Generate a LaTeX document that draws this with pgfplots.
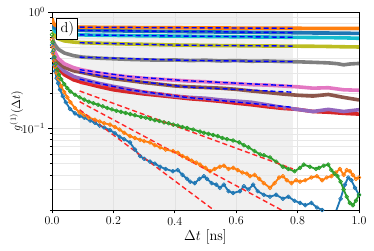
\documentclass[border=0pt]{standalone}
\usepackage{pgfplots}
\pgfplotsset{compat=1.18}
\definecolor{tabblue}{HTML}{1F77B4}
\definecolor{taborange}{HTML}{FF7F0E}
\definecolor{tabgreen}{HTML}{2CA02C}
\definecolor{tabred}{HTML}{D62728}
\definecolor{tabpurple}{HTML}{9467BD}
\definecolor{tabbrown}{HTML}{8C564B}
\definecolor{tabpink}{HTML}{E377C2}
\definecolor{tabgray}{HTML}{7F7F7F}
\definecolor{tabolive}{HTML}{BCBD22}
\definecolor{tabcyan}{HTML}{17BECF}
\definecolor{bandgray}{RGB}{240,240,240}
\pgfplotsset{
  low/.style={color=#1, line width=1.8bp, line join=round, mark=o, mark size=1.9bp, mark options={line width=0.8bp, solid}},
  top/.style={color=#1, line width=3.6bp, line join=round},
  bfit/.style={color=blue, line width=1.4bp, dash pattern=on 5bp off 3bp},
  rfit/.style={color=red!85!white, line width=1.4bp, dash pattern=on 5bp off 3bp},
}
\begin{document}
\begin{tikzpicture}
\begin{axis}[
  set layers,
  scale only axis, width=307bp, height=198bp,
  xmin=0, xmax=1, ymin=0.02, ymax=1, ymode=log,
  xtick={0,0.2,0.4,0.6,0.8,1},
  xticklabels={0.0,0.2,0.4,0.6,0.8,1.0},
  ytick={0.1,1}, yticklabels={$10^{-1}$,$10^{0}$},
  minor ytick={0.02,0.03,0.04,0.05,0.06,0.07,0.08,0.09,0.2,0.3,0.4,0.5,0.6,0.7,0.8,0.9},
  xtick pos=bottom, ytick pos=left,
  tick align=outside,
  major tick length=3.5bp, minor tick length=2bp,
  xmajorgrids, ymajorgrids, yminorgrids,
  major grid style={draw=black!11, line width=0.5bp},
  minor grid style={draw=black!9, line width=0.5bp},
  axis line style={line width=1bp, black},
  every tick/.style={black, line width=0.8bp},
  xlabel={$\Delta t$ [ns]}, ylabel={$g^{(1)}(\Delta t)$},
  xlabel style={font=\Large, yshift=2bp},
  ylabel style={font=\large},
  ylabel shift=-8bp,
  tick label style={font=\large},
]
\begin{pgfonlayer}{axis background}
\fill[bandgray] (axis cs:0.09,0.02) rectangle (axis cs:0.785,1);
\end{pgfonlayer}

% lower blue
\addplot[low=tabblue] coordinates {
(0,0.52)(0.002,0.45)(0.004,0.40)(0.007,0.35)(0.01,0.31)(0.015,0.27)(0.02,0.245)(0.026,0.216)(0.035,0.19)(0.045,0.168)(0.059,0.147)(0.075,0.135)(0.09,0.128)(0.105,0.124)(0.124,0.117)(0.14,0.112)(0.155,0.106)(0.17,0.102)(0.189,0.097)(0.205,0.091)(0.22,0.085)(0.235,0.081)(0.254,0.076)(0.27,0.066)(0.287,0.058)(0.30,0.055)(0.319,0.052)(0.335,0.050)(0.352,0.047)(0.37,0.045)(0.394,0.043)(0.41,0.044)(0.425,0.040)(0.44,0.037)(0.45,0.035)(0.465,0.034)(0.48,0.037)(0.495,0.039)(0.505,0.037)(0.52,0.034)(0.535,0.033)(0.547,0.031)(0.56,0.033)(0.575,0.029)(0.59,0.028)(0.612,0.029)(0.625,0.032)(0.64,0.030)(0.655,0.033)(0.67,0.029)(0.69,0.027)(0.71,0.026)(0.73,0.027)(0.752,0.025)(0.77,0.026)(0.79,0.024)(0.808,0.023)(0.825,0.022)(0.845,0.023)(0.863,0.021)(0.88,0.020)(0.895,0.019)(0.91,0.018)(0.925,0.0195)(0.94,0.025)(0.954,0.033)(0.965,0.038)(0.975,0.036)(0.987,0.031)(1.0,0.027)};
% lower orange
\addplot[low=taborange] coordinates {
(0,0.58)(0.002,0.50)(0.004,0.44)(0.007,0.38)(0.01,0.34)(0.015,0.30)(0.02,0.27)(0.03,0.23)(0.04,0.205)(0.05,0.185)(0.06,0.168)(0.075,0.150)(0.09,0.137)(0.105,0.130)(0.12,0.124)(0.14,0.119)(0.155,0.115)(0.17,0.111)(0.189,0.108)(0.205,0.103)(0.22,0.098)(0.235,0.092)(0.254,0.086)(0.27,0.083)(0.287,0.080)(0.30,0.078)(0.319,0.076)(0.335,0.072)(0.352,0.069)(0.37,0.066)(0.394,0.064)(0.41,0.062)(0.425,0.058)(0.44,0.056)(0.455,0.053)(0.47,0.051)(0.482,0.049)(0.5,0.046)(0.515,0.043)(0.53,0.045)(0.547,0.047)(0.56,0.048)(0.575,0.045)(0.59,0.046)(0.605,0.044)(0.62,0.042)(0.635,0.041)(0.645,0.039)(0.66,0.040)(0.675,0.037)(0.69,0.034)(0.71,0.031)(0.725,0.034)(0.74,0.038)(0.752,0.039)(0.765,0.036)(0.78,0.034)(0.795,0.036)(0.808,0.035)(0.825,0.036)(0.845,0.038)(0.863,0.039)(0.88,0.036)(0.895,0.038)(0.91,0.039)(0.925,0.042)(0.938,0.045)(0.95,0.040)(0.96,0.044)(0.97,0.043)(0.98,0.040)(0.99,0.037)(1.0,0.038)};
% lower green
\addplot[low=tabgreen] coordinates {
(0,0.64)(0.002,0.55)(0.005,0.47)(0.008,0.41)(0.012,0.36)(0.017,0.32)(0.023,0.29)(0.03,0.265)(0.04,0.24)(0.05,0.222)(0.06,0.208)(0.075,0.195)(0.09,0.185)(0.105,0.177)(0.12,0.170)(0.135,0.165)(0.15,0.160)(0.165,0.155)(0.18,0.150)(0.195,0.146)(0.21,0.142)(0.225,0.139)(0.24,0.136)(0.255,0.133)(0.27,0.130)(0.29,0.126)(0.305,0.124)(0.32,0.121)(0.335,0.118)(0.35,0.116)(0.365,0.113)(0.38,0.111)(0.395,0.108)(0.41,0.106)(0.425,0.103)(0.44,0.101)(0.46,0.098)(0.482,0.094)(0.495,0.092)(0.51,0.090)(0.525,0.088)(0.54,0.086)(0.555,0.083)(0.57,0.081)(0.59,0.079)(0.61,0.076)(0.625,0.072)(0.64,0.069)(0.66,0.064)(0.678,0.060)(0.69,0.059)(0.71,0.0565)(0.73,0.052)(0.752,0.047)(0.77,0.045)(0.79,0.043)(0.808,0.046)(0.82,0.049)(0.84,0.047)(0.86,0.045)(0.87,0.046)(0.885,0.048)(0.9,0.049)(0.91,0.044)(0.92,0.041)(0.93,0.039)(0.94,0.035)(0.95,0.030)(0.96,0.026)(0.97,0.023)(0.98,0.022)(0.99,0.024)(1.0,0.027)};
% red
\addplot[top=tabred] coordinates {
(0,0.52)(0.004,0.43)(0.01,0.38)(0.02,0.33)(0.04,0.29)(0.07,0.262)(0.1,0.248)(0.15,0.23)(0.2,0.215)(0.25,0.206)(0.3,0.198)(0.35,0.192)(0.4,0.186)(0.45,0.18)(0.5,0.176)(0.55,0.171)(0.6,0.165)(0.65,0.16)(0.7,0.154)(0.75,0.149)(0.8,0.146)(0.85,0.14)(0.9,0.138)(0.95,0.135)(1.0,0.133)};
% purple
\addplot[top=tabpurple] coordinates {
(0,0.55)(0.004,0.45)(0.01,0.40)(0.02,0.35)(0.04,0.31)(0.07,0.28)(0.1,0.265)(0.15,0.245)(0.2,0.23)(0.25,0.218)(0.3,0.205)(0.35,0.198)(0.4,0.19)(0.45,0.185)(0.5,0.182)(0.55,0.176)(0.6,0.172)(0.65,0.168)(0.7,0.16)(0.75,0.152)(0.8,0.146)(0.85,0.14)(0.9,0.146)(0.95,0.14)(1.0,0.145)};
% brown
\addplot[top=tabbrown] coordinates {
(0,0.56)(0.004,0.47)(0.01,0.42)(0.02,0.37)(0.04,0.335)(0.07,0.313)(0.1,0.302)(0.15,0.283)(0.2,0.268)(0.25,0.258)(0.3,0.248)(0.35,0.24)(0.4,0.232)(0.45,0.228)(0.5,0.225)(0.55,0.222)(0.6,0.217)(0.65,0.21)(0.7,0.204)(0.75,0.198)(0.8,0.193)(0.85,0.19)(0.9,0.196)(0.95,0.185)(1.0,0.176)};
% pink
\addplot[top=tabpink] coordinates {
(0,0.58)(0.004,0.50)(0.01,0.45)(0.02,0.40)(0.04,0.36)(0.07,0.333)(0.1,0.318)(0.15,0.30)(0.2,0.287)(0.25,0.278)(0.3,0.27)(0.35,0.265)(0.4,0.26)(0.45,0.255)(0.5,0.252)(0.55,0.246)(0.6,0.243)(0.65,0.238)(0.7,0.236)(0.75,0.232)(0.8,0.228)(0.85,0.222)(0.9,0.224)(0.95,0.215)(1.0,0.213)};
% gray
\addplot[top=tabgray] coordinates {
(0,0.62)(0.004,0.56)(0.01,0.52)(0.02,0.48)(0.04,0.445)(0.07,0.422)(0.1,0.41)(0.15,0.402)(0.2,0.397)(0.25,0.392)(0.3,0.389)(0.35,0.386)(0.4,0.388)(0.45,0.383)(0.5,0.386)(0.55,0.38)(0.6,0.383)(0.65,0.378)(0.7,0.38)(0.75,0.376)(0.8,0.374)(0.85,0.37)(0.9,0.366)(0.93,0.36)(0.95,0.352)(0.97,0.358)(1.0,0.362)};
% olive
\addplot[top=tabolive] coordinates {
(0,0.72)(0.004,0.66)(0.01,0.62)(0.02,0.59)(0.04,0.565)(0.07,0.552)(0.1,0.545)(0.15,0.54)(0.2,0.535)(0.25,0.531)(0.3,0.528)(0.35,0.524)(0.4,0.521)(0.45,0.519)(0.5,0.517)(0.55,0.515)(0.6,0.514)(0.65,0.512)(0.7,0.511)(0.75,0.51)(0.8,0.509)(0.85,0.508)(0.9,0.506)(0.95,0.503)(1.0,0.501)};
% cyan
\addplot[top=tabcyan] coordinates {
(0,0.80)(0.004,0.72)(0.01,0.68)(0.02,0.66)(0.04,0.648)(0.07,0.64)(0.1,0.636)(0.15,0.632)(0.2,0.63)(0.25,0.627)(0.3,0.625)(0.35,0.623)(0.4,0.621)(0.45,0.619)(0.5,0.617)(0.55,0.615)(0.6,0.613)(0.65,0.611)(0.7,0.61)(0.75,0.608)(0.8,0.606)(0.85,0.604)(0.9,0.603)(0.95,0.60)(1.0,0.595)};
% blue top
\addplot[top=tabblue] coordinates {
(0,0.80)(0.004,0.75)(0.01,0.725)(0.02,0.712)(0.04,0.703)(0.07,0.698)(0.1,0.695)(0.15,0.692)(0.2,0.689)(0.25,0.687)(0.3,0.684)(0.35,0.682)(0.4,0.680)(0.45,0.677)(0.5,0.676)(0.55,0.673)(0.6,0.672)(0.65,0.669)(0.7,0.668)(0.75,0.665)(0.8,0.664)(0.85,0.661)(0.9,0.660)(0.95,0.657)(1.0,0.656)};
% orange top
\addplot[top=taborange] coordinates {
(0,0.88)(0.003,0.82)(0.008,0.78)(0.015,0.76)(0.03,0.75)(0.06,0.744)(0.1,0.741)(0.15,0.739)(0.2,0.738)(0.25,0.736)(0.3,0.735)(0.35,0.734)(0.4,0.733)(0.45,0.731)(0.5,0.73)(0.55,0.729)(0.6,0.728)(0.65,0.727)(0.7,0.726)(0.75,0.725)(0.8,0.725)(0.85,0.724)(0.9,0.724)(0.95,0.723)(1.0,0.723)};

% fits
\addplot[rfit] coordinates {(0.09,0.145)(0.785,0.0062)};
\addplot[rfit] coordinates {(0.09,0.17)(0.785,0.0177)};
\addplot[rfit] coordinates {(0.09,0.21)(0.785,0.045)};
\addplot[rfit] coordinates {(0.09,0.245)(0.785,0.145)};
\addplot[bfit] coordinates {(0.09,0.265)(0.25,0.215)(0.43,0.186)(0.785,0.152)};
\addplot[bfit] coordinates {(0.09,0.305)(0.25,0.26)(0.43,0.228)(0.785,0.205)};
\addplot[bfit] coordinates {(0.09,0.32)(0.25,0.28)(0.43,0.258)(0.785,0.232)};
\addplot[bfit] coordinates {(0.09,0.41)(0.43,0.385)(0.785,0.375)};
\addplot[bfit] coordinates {(0.09,0.545)(0.4,0.52)(0.785,0.51)};
\addplot[bfit] coordinates {(0.09,0.636)(0.785,0.607)};
\addplot[bfit] coordinates {(0.09,0.696)(0.785,0.665)};
\addplot[bfit] coordinates {(0.09,0.741)(0.785,0.725)};

\node[draw=black, fill=white, line width=0.8bp, minimum size=21bp, inner sep=0pt, font=\Large] at (axis description cs:0.05,0.917) {d)};
\end{axis}
\pgfresetboundingbox
\path ([shift={(-52bp,-41bp)}]current axis.south west) rectangle ([shift={(15bp,12bp)}]current axis.north east);
\end{tikzpicture}
\end{document}
